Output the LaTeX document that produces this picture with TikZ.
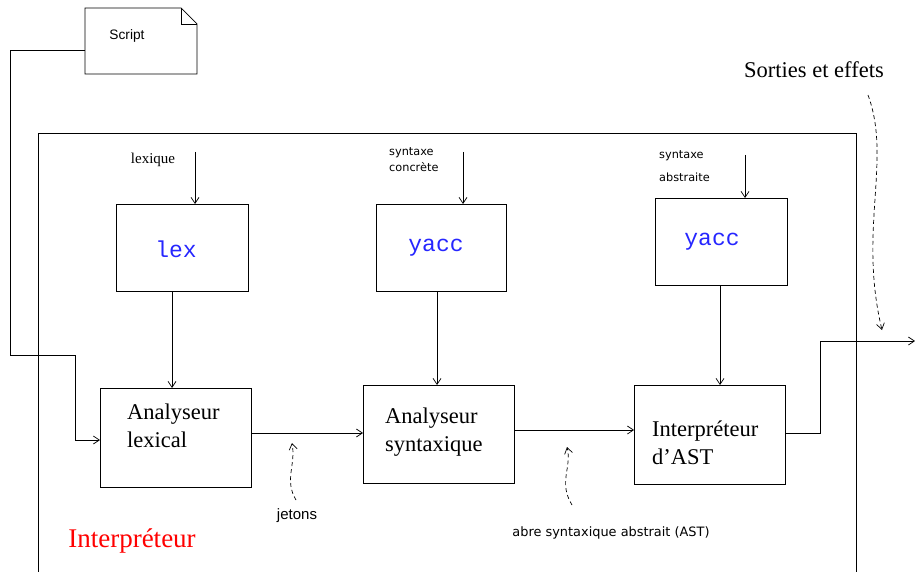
\documentclass[tikz,border=0pt]{standalone}
\usepackage{fontspec}
\setmainfont{Liberation Serif}
\newfontfamily\sansf{Liberation Sans}
\newfontfamily\dejav{DejaVu Sans}
\newfontfamily\monof{Liberation Mono}
\usetikzlibrary{arrows.meta}
\begin{document}
\begin{tikzpicture}[x=1pt,y=-1pt,
  box/.style={draw,line width=0.8pt,minimum width=#1,anchor=north west,inner sep=0pt},
  arr/.style={-{Straight Barb[length=6pt,width=8pt]},line width=0.7pt},
  darr/.style={-{Straight Barb[length=6pt,width=8pt]},line width=0.7pt,dash pattern=on 4pt off 3pt},
  ln/.style={line width=0.7pt},
  boxtxt/.style={font=\fontsize{22.5}{28}\selectfont,align=left,anchor=north west,inner sep=0pt},
  tooltxt/.style={font=\monof\fontsize{23}{26}\selectfont,text=blue!85!white},
  small/.style={font=\dejav\fontsize{11.3}{16}\selectfont,align=left,anchor=north west,inner sep=0pt}]
\useasboundingbox (0,0) rectangle (915,572);
% frame
\draw[ln] (38,572) -- (38,133) -- (856,133) -- (856,572);
% script document
\draw[ln,fill=white] (85,8) -- (181,8) -- (197,24) -- (197,74) -- (85,74) -- cycle;
\draw[ln] (181,8) -- (181,24) -- (197,24);
\node[font=\sansf\fontsize{13.7}{16}\selectfont] (script) at (127,36) {Script};
\coordinate (sl) at (85,50);
% tool boxes
\node[box=132pt,minimum height=87pt] (lexb) at (116,204) {};
\node[tooltxt] (lext) at (176,249) {lex};
\node[box=130pt,minimum height=87pt] (yac1) at (376,204) {};
\node[tooltxt] (y1t) at (436,248) {yacc};
\node[box=132pt,minimum height=87pt] (yac2) at (655,198) {};
\node[tooltxt] (y2t) at (712,242) {yacc};
% input labels
\node[font=\fontsize{15}{18}\selectfont] (lexlab) at (153,160) {lexique};
\node[small] (sclab) at (389,147) {syntaxe\\concrète};
\node[small,font=\dejav\fontsize{11.3}{23}\selectfont] (salab) at (659,150) {syntaxe\\abstraite};
\coordinate (i1) at (195,152);
\coordinate (i2) at (463,152);
\coordinate (i3) at (745,155);
\draw[arr] (i1) -- (i1 |- lexb.north);
\draw[arr] (i2) -- (i2 |- yac1.north);
\draw[arr] (i3) -- (i3 |- yac2.north);
% main boxes
\node[box=151pt,minimum height=99pt] (alex) at (100,388) {};
\node[boxtxt] (alext) at (127,404) {Analyseur\\lexical};
\node[box=151pt,minimum height=98pt] (asyn) at (363,385) {};
\node[boxtxt] (asynt) at (385,408) {Analyseur\\syntaxique};
\node[box=151pt,minimum height=99pt] (inter) at (634,385) {};
\node[boxtxt] (intert) at (652,421) {Interpréteur\\d’AST};
% vertical connections
\draw[arr] (172,291) -- (172,388);
\draw[arr] (437,291) -- (437,385);
\draw[arr] (720,285) -- (720,385);
% horizontal connections
\draw[arr] (251,433) -- (363,433);
\draw[arr] (514,430) -- (634,430);
% script input
\draw[arr] (sl) -- (10,50) -- (10,355) -- (75,355) -- (75,440) -- (100,440);
% output
\coordinate (outend) at (915,341);
\draw[arr] (785,433) -- (820,433) -- (820,341) -- (outend);
\node[font=\fontsize{22.5}{26}\selectfont] (sort) at (814,70) {Sorties et effets};
\draw[darr] (868,95) .. controls (892,160) and (858,230) .. (882,330);
% labels
\node[font=\sansf\fontsize{15}{18}\selectfont] (jet) at (297,516) {jetons};
\draw[darr] (296,500) .. controls (284,480) and (296,465) .. (292,443);
\node[font=\dejav\fontsize{12.9}{15}\selectfont] (astl) at (611,533) {abre syntaxique abstrait (AST)};
\draw[darr] (572,505) .. controls (558,482) and (572,468) .. (567,447);
\node[font=\fontsize{27}{30}\selectfont,text=red] (interp) at (132,541) {Interpréteur};
\end{tikzpicture}
\end{document}
